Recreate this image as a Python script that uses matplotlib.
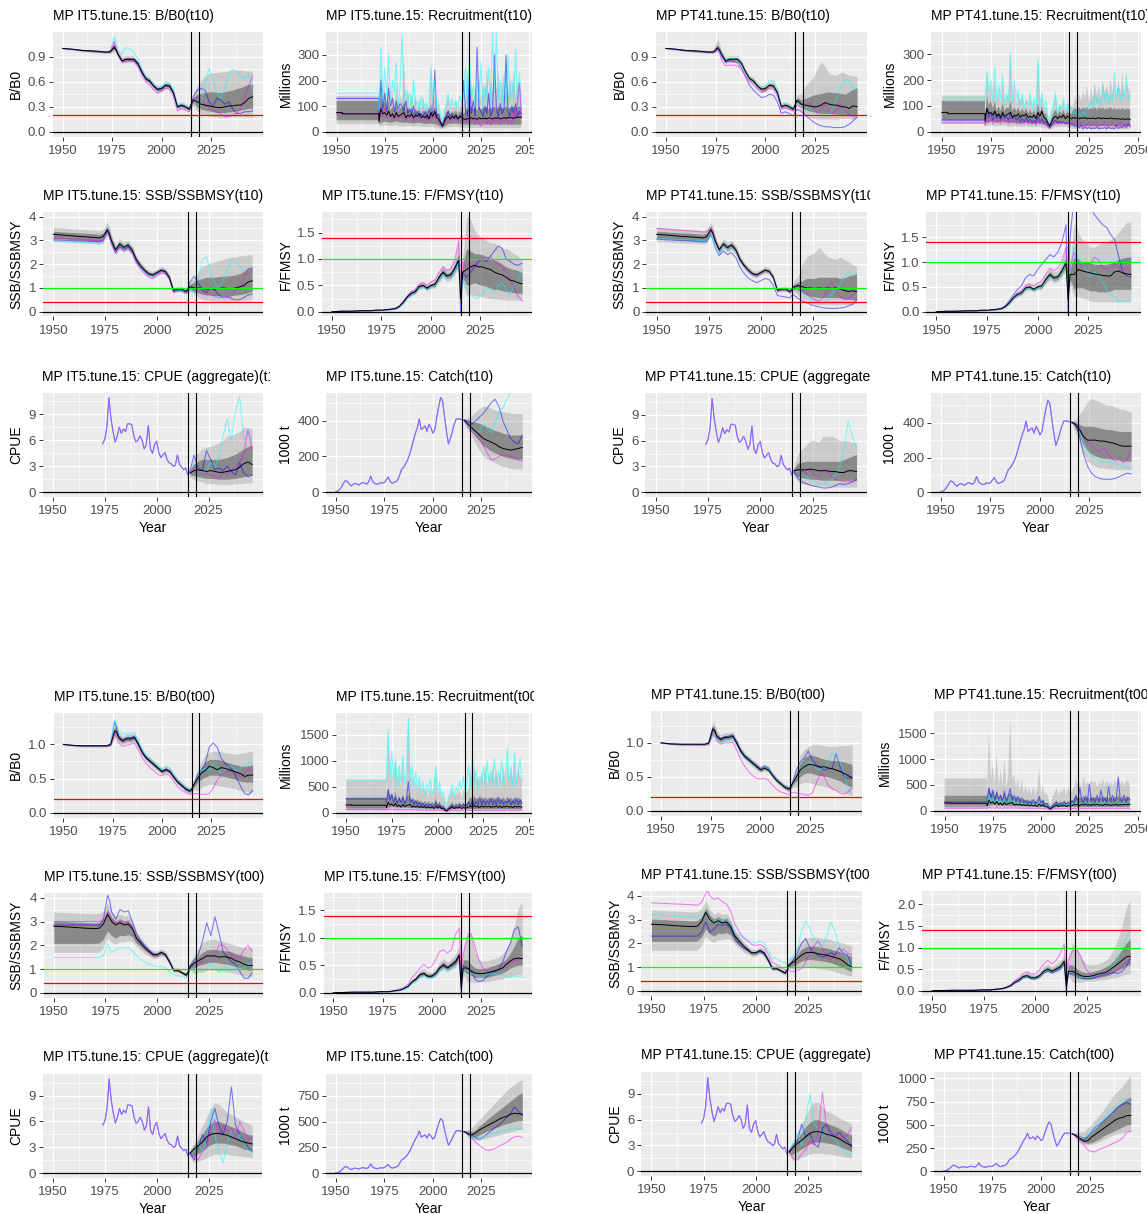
import numpy as np
import matplotlib
matplotlib.use("Agg")
import matplotlib.pyplot as plt
from matplotlib.transforms import Bbox

plt.rcParams["font.family"] = ["Liberation Sans", "DejaVu Sans"]

# ------------------------------------------------------------------
# year grids
# ------------------------------------------------------------------
YH = [1950, 1955, 1960, 1965, 1970, 1972, 1974, 1976, 1977, 1978, 1980, 1982,
      1984, 1986, 1988, 1990, 1992, 1994, 1996, 1998, 2000, 2002, 2004, 2006,
      2008, 2010, 2012, 2014, 2015, 2016]
YP = [2018, 2020, 2022, 2024, 2026, 2028, 2030, 2032, 2034, 2036, 2038, 2040,
      2042, 2044, 2046]
YP16 = [2016] + YP
CPUE_YEARS = list(range(1974, 2017))
CATCH_YEARS = list(range(1950, 2017))
YR = list(range(1972, 2047))
YR3 = list(range(1972, 2045, 3)) + [2046]
REC_FLAT_X = [1950, 1953, 1953, 1972]

# ------------------------------------------------------------------
# B/B0 - historical (per OM)
# ------------------------------------------------------------------
T10_BB0_MED = [1.00, 0.99, 0.975, 0.97, 0.96, 0.955, 0.96, 1.01, 0.98, 0.93, 0.85, 0.87, 0.87, 0.87, 0.82, 0.72, 0.64, 0.61, 0.55, 0.51, 0.52, 0.56, 0.55, 0.47, 0.30, 0.32, 0.30, 0.27, 0.33, 0.38]
T10_BB0_OLO = [0.99, 0.98, 0.96, 0.95, 0.94, 0.94, 0.94, 0.96, 0.93, 0.89, 0.82, 0.83, 0.83, 0.83, 0.78, 0.68, 0.60, 0.57, 0.51, 0.47, 0.48, 0.52, 0.51, 0.43, 0.27, 0.28, 0.26, 0.24, 0.28, 0.31]
T10_BB0_OHI = [1.01, 1.00, 0.99, 0.985, 0.98, 0.975, 0.99, 1.12, 1.06, 0.98, 0.90, 0.91, 0.91, 0.91, 0.86, 0.76, 0.68, 0.65, 0.59, 0.55, 0.57, 0.61, 0.60, 0.52, 0.34, 0.36, 0.34, 0.31, 0.38, 0.45]
T10_BB0_ILO = [1.00, 0.985, 0.97, 0.96, 0.95, 0.95, 0.95, 0.99, 0.96, 0.91, 0.84, 0.85, 0.85, 0.85, 0.80, 0.70, 0.62, 0.59, 0.53, 0.49, 0.50, 0.54, 0.53, 0.45, 0.29, 0.30, 0.28, 0.26, 0.31, 0.35]
T10_BB0_IHI = [1.00, 0.995, 0.98, 0.975, 0.97, 0.965, 0.975, 1.05, 1.01, 0.95, 0.87, 0.89, 0.89, 0.89, 0.84, 0.74, 0.66, 0.63, 0.57, 0.53, 0.54, 0.58, 0.57, 0.49, 0.32, 0.34, 0.32, 0.29, 0.35, 0.41]
T00_BB0_MED = [1.00, 0.985, 0.98, 0.98, 0.98, 0.98, 1.00, 1.20, 1.18, 1.10, 1.05, 1.08, 1.08, 1.10, 1.00, 0.88, 0.80, 0.75, 0.70, 0.65, 0.60, 0.63, 0.60, 0.52, 0.45, 0.40, 0.35, 0.32, 0.34, 0.40]
T00_BB0_OLO = [0.99, 0.97, 0.96, 0.96, 0.96, 0.96, 0.97, 1.10, 1.08, 1.03, 0.99, 1.02, 1.02, 1.03, 0.94, 0.82, 0.75, 0.70, 0.65, 0.60, 0.56, 0.59, 0.56, 0.48, 0.41, 0.36, 0.31, 0.28, 0.29, 0.34]
T00_BB0_OHI = [1.01, 1.00, 0.995, 0.995, 0.995, 0.995, 1.03, 1.32, 1.28, 1.18, 1.12, 1.15, 1.15, 1.16, 1.07, 0.94, 0.86, 0.81, 0.76, 0.71, 0.66, 0.69, 0.66, 0.57, 0.50, 0.45, 0.40, 0.37, 0.40, 0.47]
T00_BB0_ILO = [1.00, 0.98, 0.97, 0.97, 0.97, 0.97, 0.985, 1.15, 1.13, 1.06, 1.02, 1.05, 1.05, 1.07, 0.97, 0.85, 0.78, 0.73, 0.68, 0.63, 0.58, 0.61, 0.58, 0.50, 0.43, 0.38, 0.33, 0.30, 0.31, 0.37]
T00_BB0_IHI = [1.00, 0.99, 0.99, 0.99, 0.99, 0.99, 1.015, 1.26, 1.23, 1.14, 1.08, 1.11, 1.11, 1.13, 1.03, 0.91, 0.83, 0.78, 0.73, 0.68, 0.63, 0.66, 0.63, 0.55, 0.48, 0.43, 0.38, 0.35, 0.37, 0.43]

# B/B0 - projections (per MP/OM)
IT5_T10_BB0_MED = [0.36, 0.33, 0.32, 0.31, 0.30, 0.29, 0.29, 0.30, 0.31, 0.31, 0.32, 0.32, 0.35, 0.40, 0.42]
IT5_T10_BB0_OLO = [0.25, 0.21, 0.20, 0.19, 0.18, 0.18, 0.17, 0.17, 0.18, 0.18, 0.18, 0.18, 0.18, 0.18, 0.17]
IT5_T10_BB0_OHI = [0.55, 0.62, 0.67, 0.70, 0.71, 0.71, 0.72, 0.72, 0.73, 0.74, 0.74, 0.74, 0.73, 0.73, 0.72]
IT5_T10_BB0_ILO = [0.30, 0.27, 0.26, 0.25, 0.24, 0.23, 0.23, 0.23, 0.24, 0.24, 0.25, 0.26, 0.27, 0.28, 0.28]
IT5_T10_BB0_IHI = [0.45, 0.46, 0.47, 0.48, 0.48, 0.47, 0.47, 0.48, 0.49, 0.50, 0.52, 0.53, 0.55, 0.57, 0.57]
PT41_T10_BB0_MED = [0.33, 0.32, 0.31, 0.30, 0.30, 0.32, 0.35, 0.33, 0.32, 0.32, 0.30, 0.30, 0.28, 0.31, 0.30]
PT41_T10_BB0_OLO = [0.25, 0.20, 0.18, 0.16, 0.15, 0.15, 0.15, 0.15, 0.15, 0.15, 0.16, 0.16, 0.16, 0.15, 0.15]
PT41_T10_BB0_OHI = [0.45, 0.55, 0.60, 0.65, 0.75, 0.84, 0.78, 0.70, 0.68, 0.68, 0.72, 0.70, 0.68, 0.67, 0.66]
PT41_T10_BB0_ILO = [0.30, 0.27, 0.25, 0.24, 0.23, 0.22, 0.22, 0.22, 0.22, 0.21, 0.21, 0.21, 0.20, 0.20, 0.20]
PT41_T10_BB0_IHI = [0.38, 0.40, 0.42, 0.44, 0.45, 0.46, 0.47, 0.48, 0.47, 0.47, 0.46, 0.45, 0.48, 0.51, 0.53]
IT5_T00_BB0_MED = [0.50, 0.58, 0.62, 0.68, 0.66, 0.63, 0.66, 0.65, 0.63, 0.61, 0.59, 0.57, 0.53, 0.55, 0.55]
IT5_T00_BB0_OLO = [0.33, 0.37, 0.40, 0.42, 0.41, 0.40, 0.39, 0.38, 0.37, 0.36, 0.34, 0.32, 0.31, 0.30, 0.30]
IT5_T00_BB0_OHI = [0.62, 0.75, 0.84, 0.88, 0.90, 0.90, 0.89, 0.88, 0.87, 0.86, 0.86, 0.87, 0.88, 0.89, 0.90]
IT5_T00_BB0_ILO = [0.44, 0.49, 0.52, 0.55, 0.55, 0.55, 0.54, 0.53, 0.51, 0.50, 0.48, 0.46, 0.45, 0.45, 0.45]
IT5_T00_BB0_IHI = [0.56, 0.66, 0.74, 0.78, 0.78, 0.78, 0.77, 0.75, 0.73, 0.71, 0.70, 0.68, 0.68, 0.69, 0.70]
PT41_T00_BB0_MED = [0.50, 0.60, 0.65, 0.68, 0.68, 0.66, 0.64, 0.65, 0.63, 0.62, 0.60, 0.58, 0.55, 0.52, 0.48]
PT41_T00_BB0_OLO = [0.35, 0.40, 0.42, 0.42, 0.40, 0.38, 0.37, 0.36, 0.34, 0.32, 0.30, 0.28, 0.26, 0.24, 0.22]
PT41_T00_BB0_OHI = [0.62, 0.82, 0.90, 0.95, 0.97, 0.98, 0.97, 0.96, 0.95, 0.95, 0.95, 0.96, 0.96, 0.97, 0.97]
PT41_T00_BB0_ILO = [0.44, 0.50, 0.55, 0.56, 0.55, 0.53, 0.52, 0.51, 0.50, 0.48, 0.46, 0.44, 0.40, 0.37, 0.35]
PT41_T00_BB0_IHI = [0.56, 0.70, 0.78, 0.82, 0.82, 0.80, 0.78, 0.76, 0.75, 0.74, 0.74, 0.73, 0.72, 0.70, 0.68]

# B/B0 - worms (full period)
IT5_T10_BB0_CY = [1.00, 0.99, 0.975, 0.97, 0.96, 0.955, 0.97, 1.14, 1.08, 0.97, 0.93, 1.01, 0.99, 0.96, 0.88, 0.76, 0.66, 0.62, 0.57, 0.52, 0.55, 0.58, 0.58, 0.50, 0.32, 0.33, 0.30, 0.27, 0.32, 0.37,
                  0.33, 0.34, 0.60, 0.76, 0.62, 0.47, 0.40, 0.52, 0.70, 0.75, 0.72, 0.66, 0.64, 0.70, 0.49]
IT5_T10_BB0_BL = [1.00, 0.99, 0.975, 0.97, 0.96, 0.955, 0.96, 1.03, 0.99, 0.93, 0.85, 0.87, 0.87, 0.86, 0.81, 0.71, 0.63, 0.60, 0.54, 0.50, 0.52, 0.55, 0.54, 0.46, 0.29, 0.31, 0.30, 0.27, 0.34, 0.42,
                  0.50, 0.52, 0.50, 0.36, 0.30, 0.40, 0.38, 0.33, 0.36, 0.27, 0.22, 0.22, 0.24, 0.24, 0.25]
IT5_T10_BB0_MG = [1.00, 0.99, 0.975, 0.97, 0.955, 0.95, 0.955, 1.08, 1.00, 0.92, 0.83, 0.85, 0.85, 0.84, 0.78, 0.68, 0.60, 0.56, 0.50, 0.46, 0.49, 0.52, 0.51, 0.42, 0.25, 0.28, 0.26, 0.24, 0.30, 0.38,
                  0.42, 0.38, 0.32, 0.29, 0.26, 0.24, 0.21, 0.18, 0.18, 0.20, 0.22, 0.28, 0.42, 0.55, 0.67]
PT41_T10_BB0_CY = [1.00, 0.99, 0.975, 0.97, 0.96, 0.955, 0.96, 1.02, 0.99, 0.93, 0.86, 0.88, 0.88, 0.88, 0.83, 0.73, 0.65, 0.62, 0.57, 0.53, 0.55, 0.61, 0.62, 0.50, 0.33, 0.34, 0.31, 0.29, 0.32, 0.34,
                   0.31, 0.30, 0.28, 0.25, 0.21, 0.18, 0.16, 0.20, 0.30, 0.40, 0.55, 0.62, 0.62, 0.50, 0.52]
PT41_T10_BB0_BL = [1.00, 0.99, 0.975, 0.97, 0.96, 0.955, 0.955, 1.00, 0.97, 0.91, 0.83, 0.85, 0.84, 0.83, 0.77, 0.66, 0.56, 0.50, 0.45, 0.41, 0.42, 0.45, 0.44, 0.36, 0.22, 0.24, 0.22, 0.19, 0.24, 0.27,
                   0.24, 0.20, 0.16, 0.12, 0.09, 0.07, 0.06, 0.06, 0.05, 0.05, 0.05, 0.06, 0.09, 0.13, 0.18]
PT41_T10_BB0_MG = [1.00, 0.99, 0.975, 0.97, 0.955, 0.95, 0.95, 0.98, 0.94, 0.86, 0.79, 0.80, 0.80, 0.79, 0.75, 0.67, 0.60, 0.57, 0.51, 0.47, 0.49, 0.52, 0.51, 0.43, 0.27, 0.29, 0.27, 0.25, 0.29, 0.32,
                   0.29, 0.31, 0.35, 0.30, 0.22, 0.28, 0.33, 0.26, 0.21, 0.28, 0.33, 0.26, 0.20, 0.18, 0.20]
IT5_T00_BB0_CY = [1.00, 0.985, 0.98, 0.98, 0.98, 0.98, 1.02, 1.36, 1.30, 1.20, 1.16, 1.15, 1.16, 1.18, 1.06, 0.93, 0.84, 0.79, 0.74, 0.68, 0.64, 0.68, 0.66, 0.57, 0.48, 0.43, 0.37, 0.33, 0.35, 0.40,
                  0.52, 0.62, 0.65, 0.62, 0.72, 0.66, 0.58, 0.62, 0.68, 0.66, 0.62, 0.65, 0.70, 0.72, 0.76]
IT5_T00_BB0_BL = [1.00, 0.985, 0.98, 0.98, 0.98, 0.98, 1.01, 1.34, 1.25, 1.12, 1.07, 1.10, 1.10, 1.12, 1.02, 0.89, 0.81, 0.76, 0.71, 0.66, 0.61, 0.64, 0.61, 0.52, 0.44, 0.39, 0.34, 0.31, 0.34, 0.40,
                  0.55, 0.62, 0.72, 0.96, 1.02, 0.96, 0.80, 0.72, 0.68, 0.62, 0.50, 0.38, 0.28, 0.26, 0.33]
IT5_T00_BB0_MG = [1.00, 0.985, 0.975, 0.975, 0.975, 0.975, 0.99, 1.15, 1.10, 1.02, 0.97, 0.99, 1.00, 1.02, 0.92, 0.80, 0.72, 0.66, 0.61, 0.56, 0.54, 0.57, 0.54, 0.46, 0.38, 0.33, 0.30, 0.27, 0.27, 0.28,
                  0.28, 0.27, 0.27, 0.28, 0.36, 0.48, 0.55, 0.60, 0.62, 0.60, 0.57, 0.52, 0.58, 0.64, 0.60]
PT41_T00_BB0_CY = [1.00, 0.985, 0.98, 0.98, 0.975, 0.975, 0.99, 1.10, 1.12, 1.05, 1.00, 1.03, 1.06, 1.08, 0.98, 0.86, 0.79, 0.74, 0.69, 0.64, 0.60, 0.64, 0.62, 0.53, 0.46, 0.41, 0.36, 0.33, 0.35, 0.38,
                   0.50, 0.60, 0.66, 0.72, 0.70, 0.62, 0.60, 0.64, 0.72, 0.86, 0.82, 0.70, 0.55, 0.35, 0.24]
PT41_T00_BB0_BL = [1.00, 0.985, 0.98, 0.98, 0.98, 0.98, 1.00, 1.22, 1.18, 1.10, 1.06, 1.09, 1.10, 1.12, 1.02, 0.90, 0.82, 0.77, 0.72, 0.67, 0.62, 0.66, 0.63, 0.54, 0.46, 0.41, 0.36, 0.33, 0.35, 0.40,
                   0.60, 0.72, 0.78, 0.88, 0.75, 0.68, 0.65, 0.60, 0.62, 0.62, 0.84, 0.65, 0.50, 0.48, 0.50]
PT41_T00_BB0_MG = [1.00, 0.985, 0.975, 0.975, 0.97, 0.97, 0.98, 1.13, 1.10, 1.03, 0.98, 1.00, 1.00, 1.01, 0.90, 0.76, 0.66, 0.58, 0.52, 0.48, 0.47, 0.48, 0.45, 0.38, 0.32, 0.28, 0.26, 0.24, 0.25, 0.27,
                   0.26, 0.25, 0.24, 0.23, 0.26, 0.40, 0.55, 0.50, 0.38, 0.32, 0.30, 0.26, 0.24, 0.28, 0.33]

# ------------------------------------------------------------------
# SSB/SSBMSY
# ------------------------------------------------------------------
T10_SSB_MED = [3.25, 3.22, 3.18, 3.15, 3.12, 3.10, 3.15, 3.45, 3.30, 3.00, 2.60, 2.85, 2.70, 2.80, 2.60, 2.20, 1.95, 1.75, 1.60, 1.55, 1.65, 1.75, 1.70, 1.45, 0.90, 0.95, 0.95, 0.85, 0.95, 1.05]
T10_SSB_OLO = [2.95, 2.93, 2.90, 2.88, 2.86, 2.84, 2.88, 3.20, 3.05, 2.78, 2.40, 2.62, 2.50, 2.58, 2.40, 2.02, 1.80, 1.60, 1.47, 1.42, 1.52, 1.62, 1.57, 1.33, 0.80, 0.85, 0.85, 0.75, 0.82, 0.85]
T10_SSB_OHI = [3.55, 3.52, 3.48, 3.45, 3.42, 3.40, 3.45, 3.75, 3.60, 3.25, 2.82, 3.08, 2.92, 3.02, 2.80, 2.38, 2.10, 1.90, 1.75, 1.70, 1.80, 1.90, 1.85, 1.58, 1.00, 1.05, 1.05, 0.96, 1.10, 1.30]
T10_SSB_ILO = [3.08, 3.05, 3.02, 3.00, 2.98, 2.96, 3.00, 3.32, 3.17, 2.88, 2.50, 2.74, 2.60, 2.69, 2.50, 2.11, 1.88, 1.68, 1.54, 1.49, 1.59, 1.69, 1.64, 1.39, 0.85, 0.90, 0.90, 0.80, 0.88, 0.95]
T10_SSB_IHI = [3.38, 3.35, 3.32, 3.30, 3.27, 3.25, 3.30, 3.58, 3.43, 3.12, 2.70, 2.96, 2.80, 2.91, 2.70, 2.29, 2.02, 1.82, 1.67, 1.62, 1.72, 1.82, 1.77, 1.52, 0.95, 1.00, 1.00, 0.90, 1.02, 1.15]
T00_SSB_MED = [2.80, 2.78, 2.75, 2.72, 2.70, 2.72, 2.90, 3.30, 3.15, 3.00, 2.85, 2.95, 2.85, 2.90, 2.70, 2.30, 2.10, 1.90, 1.75, 1.60, 1.60, 1.70, 1.60, 1.30, 0.95, 0.95, 0.85, 0.75, 0.85, 1.10]
T00_SSB_OLO = [1.70, 1.70, 1.70, 1.70, 1.70, 1.72, 1.90, 2.30, 2.20, 2.10, 2.05, 2.15, 2.15, 2.20, 2.15, 1.95, 1.80, 1.65, 1.55, 1.45, 1.45, 1.55, 1.45, 1.18, 0.85, 0.85, 0.76, 0.66, 0.75, 0.95]
T00_SSB_OHI = [3.40, 3.38, 3.36, 3.34, 3.32, 3.34, 3.45, 3.80, 3.62, 3.42, 3.22, 3.32, 3.22, 3.26, 3.02, 2.56, 2.32, 2.10, 1.92, 1.76, 1.76, 1.86, 1.76, 1.44, 1.06, 1.05, 0.95, 0.86, 1.00, 1.30]
T00_SSB_ILO = [2.08, 2.08, 2.08, 2.08, 2.08, 2.10, 2.25, 2.60, 2.50, 2.40, 2.30, 2.42, 2.40, 2.45, 2.35, 2.08, 1.94, 1.78, 1.66, 1.52, 1.52, 1.62, 1.52, 1.23, 0.90, 0.90, 0.80, 0.70, 0.80, 1.02]
T00_SSB_IHI = [3.02, 3.00, 2.98, 2.96, 2.94, 2.96, 3.10, 3.50, 3.35, 3.18, 3.02, 3.12, 3.02, 3.07, 2.85, 2.42, 2.20, 1.98, 1.82, 1.66, 1.66, 1.76, 1.66, 1.36, 1.00, 0.99, 0.89, 0.80, 0.92, 1.20]

IT5_T10_SSB_MED = [1.00, 1.00, 0.98, 0.95, 0.98, 0.95, 0.98, 1.00, 0.98, 0.97, 1.00, 1.05, 1.10, 1.25, 1.30]
IT5_T10_SSB_OLO = [0.75, 0.60, 0.50, 0.48, 0.46, 0.45, 0.44, 0.44, 0.44, 0.44, 0.45, 0.46, 0.47, 0.48, 0.50]
IT5_T10_SSB_OHI = [1.40, 1.70, 1.90, 2.00, 2.05, 2.10, 2.15, 2.20, 2.25, 2.30, 2.30, 2.35, 2.35, 2.40, 2.40]
IT5_T10_SSB_ILO = [0.85, 0.80, 0.75, 0.72, 0.70, 0.68, 0.68, 0.68, 0.68, 0.68, 0.70, 0.72, 0.75, 0.80, 0.85]
IT5_T10_SSB_IHI = [1.25, 1.35, 1.40, 1.45, 1.45, 1.45, 1.48, 1.50, 1.50, 1.52, 1.55, 1.60, 1.70, 1.85, 1.90]
PT41_T10_SSB_MED = [1.10, 1.05, 1.00, 1.00, 0.98, 1.00, 0.98, 1.00, 0.98, 1.00, 0.95, 0.90, 0.85, 0.88, 0.85]
PT41_T10_SSB_OLO = [0.70, 0.50, 0.40, 0.35, 0.32, 0.30, 0.30, 0.30, 0.30, 0.30, 0.30, 0.30, 0.30, 0.32, 0.35]
PT41_T10_SSB_OHI = [1.50, 2.00, 2.30, 2.40, 2.50, 2.70, 2.50, 2.30, 2.25, 2.20, 2.30, 2.20, 2.10, 2.00, 1.90]
PT41_T10_SSB_ILO = [0.90, 0.80, 0.70, 0.65, 0.62, 0.60, 0.60, 0.60, 0.60, 0.60, 0.58, 0.55, 0.52, 0.50, 0.50]
PT41_T10_SSB_IHI = [1.25, 1.30, 1.40, 1.40, 1.40, 1.45, 1.45, 1.45, 1.45, 1.45, 1.40, 1.42, 1.50, 1.55, 1.60]
IT5_T00_SSB_MED = [1.25, 1.35, 1.45, 1.55, 1.55, 1.55, 1.50, 1.52, 1.50, 1.45, 1.35, 1.30, 1.20, 1.15, 1.15]
IT5_T00_SSB_OLO = [0.80, 0.85, 0.90, 0.95, 0.95, 0.95, 0.92, 0.90, 0.88, 0.85, 0.82, 0.78, 0.72, 0.68, 0.65]
IT5_T00_SSB_OHI = [1.60, 1.90, 2.10, 2.20, 2.25, 2.25, 2.20, 2.15, 2.10, 2.05, 2.00, 1.95, 1.90, 1.90, 1.90]
IT5_T00_SSB_ILO = [1.05, 1.15, 1.20, 1.25, 1.28, 1.28, 1.25, 1.22, 1.20, 1.15, 1.10, 1.05, 1.00, 0.95, 0.95]
IT5_T00_SSB_IHI = [1.40, 1.55, 1.70, 1.80, 1.82, 1.82, 1.80, 1.78, 1.75, 1.72, 1.65, 1.60, 1.55, 1.50, 1.50]
PT41_T00_SSB_MED = [1.20, 1.35, 1.50, 1.60, 1.62, 1.60, 1.55, 1.52, 1.50, 1.45, 1.40, 1.35, 1.25, 1.10, 1.00]
PT41_T00_SSB_OLO = [0.90, 0.95, 1.00, 1.00, 1.00, 0.98, 0.95, 0.92, 0.90, 0.85, 0.80, 0.75, 0.70, 0.65, 0.60]
PT41_T00_SSB_OHI = [1.50, 1.90, 2.10, 2.20, 2.25, 2.25, 2.25, 2.20, 2.20, 2.15, 2.10, 2.05, 2.00, 1.95, 1.90]
PT41_T00_SSB_ILO = [1.05, 1.15, 1.25, 1.30, 1.32, 1.30, 1.28, 1.25, 1.22, 1.18, 1.12, 1.05, 0.98, 0.88, 0.80]
PT41_T00_SSB_IHI = [1.35, 1.55, 1.75, 1.85, 1.88, 1.88, 1.85, 1.82, 1.80, 1.75, 1.70, 1.65, 1.60, 1.50, 1.45]

IT5_T10_SSB_CY = [2.97, 2.95, 2.93, 2.92, 2.90, 2.88, 2.92, 3.55, 3.30, 2.95, 2.55, 2.85, 2.65, 2.78, 2.58, 2.18, 1.92, 1.72, 1.58, 1.52, 1.62, 1.75, 1.72, 1.45, 0.88, 0.92, 0.90, 0.80, 0.85, 0.90,
                  0.80, 1.30, 2.20, 2.30, 1.60, 1.20, 1.00, 1.30, 1.80, 2.20, 2.10, 1.90, 1.70, 1.75, 1.80]
IT5_T10_SSB_BL = [3.02, 3.00, 2.98, 2.97, 2.95, 2.93, 2.98, 3.40, 3.20, 2.90, 2.50, 2.75, 2.62, 2.72, 2.52, 2.12, 1.88, 1.70, 1.55, 1.50, 1.60, 1.72, 1.68, 1.42, 0.85, 0.90, 0.90, 0.80, 1.00, 1.25,
                  1.50, 1.20, 0.90, 0.80, 1.00, 0.90, 0.70, 0.60, 0.65, 0.55, 0.50, 0.50, 0.60, 0.70, 0.75]
IT5_T10_SSB_MG = [3.10, 3.08, 3.05, 3.03, 3.00, 2.98, 3.00, 3.35, 3.15, 2.85, 2.45, 2.70, 2.55, 2.65, 2.45, 2.05, 1.80, 1.60, 1.45, 1.40, 1.50, 1.62, 1.60, 1.35, 0.80, 0.85, 0.85, 0.75, 0.90, 1.05,
                  0.95, 0.80, 0.75, 0.70, 0.72, 0.65, 0.60, 0.62, 0.60, 0.65, 0.90, 1.00, 1.40, 1.80, 1.80]
PT41_T10_SSB_CY = [3.07, 3.05, 3.03, 3.02, 3.00, 2.98, 3.00, 3.30, 3.05, 2.70, 2.40, 2.75, 2.60, 2.70, 2.52, 2.12, 1.88, 1.68, 1.55, 1.50, 1.62, 1.72, 1.70, 1.45, 0.90, 0.95, 0.92, 0.82, 0.90, 1.00,
                   1.00, 0.85, 0.70, 0.55, 0.45, 0.40, 0.40, 0.50, 0.75, 0.90, 1.10, 1.50, 1.65, 1.50, 1.60]
PT41_T10_SSB_BL = [3.05, 3.02, 3.00, 2.98, 2.95, 2.93, 2.95, 3.25, 3.05, 2.72, 2.35, 2.55, 2.40, 2.48, 2.28, 1.88, 1.62, 1.42, 1.30, 1.22, 1.30, 1.40, 1.35, 1.12, 0.68, 0.65, 0.62, 0.58, 0.70, 0.70,
                   0.55, 0.45, 0.38, 0.30, 0.25, 0.20, 0.17, 0.15, 0.14, 0.14, 0.16, 0.18, 0.25, 0.30, 0.50]
PT41_T10_SSB_MG = [3.50, 3.47, 3.43, 3.40, 3.37, 3.35, 3.35, 3.55, 3.35, 3.00, 2.60, 2.85, 2.70, 2.80, 2.58, 2.15, 1.90, 1.70, 1.55, 1.50, 1.62, 1.72, 1.68, 1.42, 0.88, 0.92, 0.90, 0.80, 0.90, 1.00,
                   1.10, 0.90, 0.75, 0.60, 0.50, 0.45, 0.60, 0.85, 1.25, 0.90, 0.65, 0.50, 0.55, 0.70, 0.80]
IT5_T00_SSB_CY = [1.48, 1.48, 1.48, 1.48, 1.48, 1.48, 1.55, 2.05, 1.85, 1.70, 1.80, 1.90, 1.88, 1.90, 1.75, 1.55, 1.40, 1.30, 1.20, 1.15, 1.10, 1.12, 1.05, 0.90, 0.75, 0.72, 0.68, 0.62, 0.75, 0.95,
                  1.10, 1.00, 0.85, 0.95, 1.25, 1.00, 0.85, 1.10, 1.05, 0.95, 1.10, 1.00, 1.05, 1.25, 1.15]
IT5_T00_SSB_BL = [2.85, 2.85, 2.85, 2.85, 2.85, 2.85, 3.10, 4.10, 3.90, 3.40, 3.10, 3.50, 3.40, 3.45, 3.00, 2.50, 2.20, 2.00, 1.80, 1.65, 1.62, 1.72, 1.62, 1.30, 0.95, 0.92, 0.85, 0.72, 0.90, 1.15,
                  1.40, 1.60, 2.20, 2.95, 2.40, 3.20, 2.50, 1.70, 1.50, 1.30, 1.20, 0.90, 0.62, 0.60, 0.85]
IT5_T00_SSB_MG = [3.00, 3.00, 3.00, 3.00, 3.00, 3.00, 3.10, 3.40, 3.20, 3.05, 2.90, 3.00, 2.95, 2.95, 2.75, 2.30, 2.10, 1.90, 1.72, 1.60, 1.58, 1.68, 1.60, 1.30, 0.92, 0.92, 0.85, 0.75, 0.90, 1.10,
                  1.10, 1.20, 1.40, 1.60, 1.55, 1.60, 2.00, 2.00, 1.80, 1.60, 1.50, 1.50, 1.80, 2.00, 1.75]
PT41_T00_SSB_CY = [3.20, 3.18, 3.15, 3.12, 3.10, 3.10, 3.15, 3.30, 3.10, 2.90, 2.90, 3.00, 2.95, 3.00, 2.90, 2.50, 2.35, 2.25, 2.15, 2.05, 2.00, 2.10, 2.00, 1.70, 1.40, 1.35, 1.25, 1.15, 1.20, 1.30,
                   1.50, 1.80, 2.50, 2.95, 2.60, 2.20, 2.00, 1.90, 2.30, 2.90, 2.50, 1.90, 1.60, 1.40, 0.90]
PT41_T00_SSB_BL = [2.30, 2.30, 2.30, 2.30, 2.30, 2.30, 2.45, 2.90, 2.70, 2.45, 2.60, 2.80, 2.75, 2.80, 2.60, 2.20, 1.95, 1.80, 1.70, 1.60, 1.60, 1.65, 1.55, 1.25, 0.90, 0.90, 0.85, 0.75, 0.85, 1.00,
                   1.30, 1.60, 2.00, 2.20, 1.80, 1.60, 1.50, 1.40, 1.50, 1.60, 1.50, 1.80, 1.60, 1.50, 1.00]
PT41_T00_SSB_MG = [3.70, 3.68, 3.66, 3.64, 3.62, 3.60, 3.70, 4.10, 4.20, 4.00, 3.85, 3.90, 3.75, 3.65, 3.35, 2.80, 2.50, 2.25, 2.10, 1.95, 1.90, 1.95, 1.85, 1.55, 1.20, 1.10, 1.00, 0.88, 0.85, 0.85,
                   0.80, 0.85, 0.95, 1.20, 1.60, 1.90, 2.10, 1.80, 1.40, 1.30, 1.50, 1.60, 1.75, 1.60, 1.50]

# ------------------------------------------------------------------
# F/FMSY
# ------------------------------------------------------------------
T10_F_MED = [0.00, 0.01, 0.01, 0.02, 0.02, 0.03, 0.03, 0.03, 0.04, 0.04, 0.05, 0.06, 0.10, 0.18, 0.28, 0.35, 0.38, 0.48, 0.50, 0.45, 0.50, 0.52, 0.65, 0.75, 0.68, 0.70, 0.82, 0.98, 0.25, 0.75]
T10_F_OLO = [0.00, 0.00, 0.00, 0.01, 0.01, 0.02, 0.02, 0.02, 0.03, 0.03, 0.04, 0.05, 0.08, 0.15, 0.24, 0.30, 0.33, 0.42, 0.44, 0.40, 0.44, 0.45, 0.56, 0.65, 0.58, 0.60, 0.70, 0.82, 0.05, 0.55]
T10_F_OHI = [0.01, 0.02, 0.02, 0.03, 0.03, 0.04, 0.04, 0.05, 0.05, 0.06, 0.07, 0.08, 0.13, 0.22, 0.33, 0.41, 0.45, 0.56, 0.58, 0.52, 0.58, 0.62, 0.76, 0.88, 0.80, 0.84, 1.00, 1.35, 0.60, 1.00]
T10_F_ILO = [0.00, 0.00, 0.01, 0.01, 0.02, 0.02, 0.02, 0.03, 0.03, 0.03, 0.04, 0.05, 0.09, 0.16, 0.26, 0.32, 0.35, 0.45, 0.47, 0.42, 0.47, 0.48, 0.60, 0.70, 0.63, 0.65, 0.76, 0.90, 0.15, 0.65]
T10_F_IHI = [0.01, 0.01, 0.02, 0.02, 0.03, 0.04, 0.04, 0.04, 0.05, 0.05, 0.06, 0.07, 0.11, 0.20, 0.30, 0.38, 0.41, 0.51, 0.53, 0.48, 0.53, 0.56, 0.70, 0.81, 0.73, 0.76, 0.90, 1.10, 0.40, 0.88]
T00_F_MED = [0.00, 0.005, 0.01, 0.01, 0.01, 0.015, 0.02, 0.02, 0.02, 0.02, 0.03, 0.04, 0.05, 0.08, 0.12, 0.20, 0.25, 0.33, 0.35, 0.30, 0.30, 0.35, 0.45, 0.50, 0.45, 0.50, 0.55, 0.68, 0.10, 0.45]
T00_F_OLO = [0.00, 0.00, 0.00, 0.00, 0.00, 0.01, 0.01, 0.01, 0.01, 0.01, 0.02, 0.03, 0.04, 0.06, 0.10, 0.17, 0.21, 0.28, 0.30, 0.26, 0.26, 0.30, 0.39, 0.43, 0.39, 0.43, 0.47, 0.58, 0.00, 0.35]
T00_F_OHI = [0.01, 0.01, 0.015, 0.02, 0.02, 0.02, 0.03, 0.03, 0.03, 0.03, 0.04, 0.05, 0.07, 0.10, 0.15, 0.25, 0.31, 0.41, 0.44, 0.38, 0.38, 0.44, 0.56, 0.62, 0.56, 0.62, 0.70, 0.85, 0.40, 0.75]
T00_F_ILO = [0.00, 0.00, 0.005, 0.005, 0.005, 0.01, 0.015, 0.015, 0.015, 0.015, 0.025, 0.035, 0.045, 0.07, 0.11, 0.18, 0.23, 0.30, 0.32, 0.28, 0.28, 0.32, 0.42, 0.46, 0.42, 0.46, 0.51, 0.62, 0.05, 0.40]
T00_F_IHI = [0.005, 0.01, 0.01, 0.015, 0.015, 0.02, 0.025, 0.025, 0.025, 0.025, 0.035, 0.045, 0.06, 0.09, 0.13, 0.22, 0.28, 0.37, 0.39, 0.34, 0.34, 0.39, 0.50, 0.56, 0.50, 0.56, 0.62, 0.75, 0.25, 0.60]

IT5_T10_F_MED = [0.80, 0.85, 0.88, 0.85, 0.85, 0.82, 0.80, 0.75, 0.72, 0.70, 0.65, 0.60, 0.58, 0.55, 0.53]
IT5_T10_F_OLO = [0.30, 0.35, 0.30, 0.30, 0.28, 0.26, 0.25, 0.24, 0.24, 0.23, 0.22, 0.22, 0.22, 0.22, 0.22]
IT5_T10_F_OHI = [1.80, 1.75, 1.55, 1.45, 1.40, 1.35, 1.30, 1.30, 1.25, 1.20, 1.20, 1.15, 1.10, 1.05, 1.00]
IT5_T10_F_ILO = [0.50, 0.52, 0.55, 0.52, 0.50, 0.48, 0.45, 0.42, 0.42, 0.40, 0.38, 0.38, 0.36, 0.35, 0.35]
IT5_T10_F_IHI = [1.20, 1.15, 1.10, 1.10, 1.08, 1.05, 1.00, 0.98, 0.95, 0.90, 0.85, 0.82, 0.80, 0.78, 0.75]
PT41_T10_F_MED = [0.75, 0.85, 0.82, 0.80, 0.78, 0.76, 0.75, 0.73, 0.72, 0.72, 0.80, 0.82, 0.78, 0.76, 0.75]
PT41_T10_F_OLO = [0.30, 0.30, 0.28, 0.25, 0.22, 0.20, 0.20, 0.20, 0.20, 0.20, 0.20, 0.20, 0.20, 0.20, 0.20]
PT41_T10_F_OHI = [1.80, 1.60, 1.45, 1.40, 1.30, 1.30, 1.35, 1.40, 1.40, 1.45, 1.50, 1.60, 1.70, 1.80, 1.80]
PT41_T10_F_ILO = [0.45, 0.48, 0.48, 0.45, 0.42, 0.42, 0.40, 0.40, 0.40, 0.42, 0.45, 0.45, 0.45, 0.45, 0.45]
PT41_T10_F_IHI = [1.10, 1.05, 1.00, 1.00, 0.98, 0.95, 0.95, 0.95, 0.95, 0.98, 1.00, 1.05, 1.08, 1.10, 1.10]
IT5_T00_F_MED = [0.45, 0.40, 0.36, 0.35, 0.35, 0.36, 0.38, 0.40, 0.42, 0.45, 0.52, 0.58, 0.62, 0.63, 0.62]
IT5_T00_F_OLO = [0.20, 0.20, 0.18, 0.20, 0.20, 0.20, 0.22, 0.23, 0.24, 0.25, 0.28, 0.30, 0.32, 0.33, 0.32]
IT5_T00_F_OHI = [1.10, 1.05, 0.75, 0.60, 0.58, 0.58, 0.60, 0.62, 0.65, 0.70, 0.80, 0.95, 1.20, 1.55, 1.65]
IT5_T00_F_ILO = [0.35, 0.32, 0.28, 0.28, 0.28, 0.28, 0.30, 0.32, 0.33, 0.36, 0.40, 0.45, 0.48, 0.50, 0.50]
IT5_T00_F_IHI = [0.60, 0.52, 0.45, 0.44, 0.44, 0.45, 0.48, 0.50, 0.53, 0.56, 0.62, 0.72, 0.85, 1.00, 1.05]
PT41_T00_F_MED = [0.45, 0.40, 0.35, 0.33, 0.33, 0.35, 0.38, 0.40, 0.42, 0.48, 0.55, 0.62, 0.70, 0.78, 0.80]
PT41_T00_F_OLO = [0.20, 0.20, 0.20, 0.22, 0.22, 0.22, 0.24, 0.25, 0.26, 0.28, 0.30, 0.32, 0.35, 0.38, 0.40]
PT41_T00_F_OHI = [1.10, 1.00, 0.80, 0.65, 0.60, 0.60, 0.62, 0.65, 0.70, 0.80, 0.95, 1.20, 1.50, 1.90, 2.10]
PT41_T00_F_ILO = [0.35, 0.30, 0.28, 0.27, 0.27, 0.28, 0.30, 0.32, 0.34, 0.37, 0.42, 0.47, 0.52, 0.58, 0.60]
PT41_T00_F_IHI = [0.60, 0.52, 0.45, 0.42, 0.42, 0.44, 0.47, 0.50, 0.55, 0.60, 0.70, 0.82, 0.95, 1.10, 1.20]

IT5_T10_F_CY = [0.00, 0.01, 0.01, 0.01, 0.02, 0.02, 0.02, 0.03, 0.03, 0.03, 0.04, 0.05, 0.08, 0.16, 0.25, 0.32, 0.35, 0.44, 0.47, 0.42, 0.47, 0.49, 0.60, 0.70, 0.64, 0.66, 0.78, 0.95, 0.30, 0.60,
                0.45, 0.35, 0.25, 0.25, 0.35, 0.45, 0.42, 0.35, 0.50, 0.55, 0.40, 0.35, 0.50, 0.60, 0.80]
IT5_T10_F_BL = [0.00, 0.01, 0.01, 0.02, 0.02, 0.03, 0.03, 0.03, 0.04, 0.04, 0.05, 0.06, 0.10, 0.18, 0.28, 0.35, 0.38, 0.48, 0.50, 0.44, 0.50, 0.52, 0.64, 0.74, 0.67, 0.70, 0.82, 1.00, 0.00, 0.75,
                0.65, 0.75, 0.85, 0.95, 1.00, 0.95, 1.05, 1.15, 1.25, 1.20, 1.00, 0.95, 0.90, 0.88, 0.92]
IT5_T10_F_MG = [0.00, 0.01, 0.01, 0.02, 0.02, 0.03, 0.03, 0.03, 0.04, 0.04, 0.05, 0.07, 0.11, 0.20, 0.30, 0.38, 0.42, 0.52, 0.55, 0.50, 0.57, 0.60, 0.74, 0.85, 0.78, 0.82, 0.98, 1.35, 0.40, 0.95,
                0.85, 0.80, 0.90, 1.00, 0.95, 1.00, 1.05, 0.95, 0.90, 0.85, 0.75, 0.60, 0.45, 0.30, 0.20]
PT41_T10_F_CY = [0.00, 0.01, 0.01, 0.01, 0.02, 0.02, 0.02, 0.03, 0.03, 0.03, 0.04, 0.05, 0.08, 0.16, 0.25, 0.32, 0.35, 0.44, 0.47, 0.42, 0.47, 0.49, 0.60, 0.70, 0.64, 0.66, 0.78, 0.95, 0.30, 0.80,
                 1.30, 1.10, 0.95, 0.85, 0.70, 0.80, 0.75, 0.60, 0.45, 0.35, 0.30, 0.20, 0.20, 0.22, 0.25]
PT41_T10_F_BL = [0.00, 0.01, 0.01, 0.02, 0.02, 0.03, 0.03, 0.03, 0.04, 0.04, 0.05, 0.07, 0.12, 0.22, 0.34, 0.45, 0.52, 0.68, 0.75, 0.72, 0.85, 0.95, 1.05, 1.15, 1.10, 1.20, 1.40, 1.75, 0.00, 1.50,
                 2.30, 2.40, 2.40, 2.30, 2.10, 1.95, 1.85, 1.75, 1.70, 1.55, 1.45, 1.10, 0.80, 0.72, 0.70]
PT41_T10_F_MG = [0.00, 0.01, 0.01, 0.02, 0.02, 0.03, 0.03, 0.03, 0.04, 0.04, 0.05, 0.07, 0.11, 0.20, 0.30, 0.38, 0.42, 0.53, 0.56, 0.52, 0.58, 0.62, 0.75, 0.88, 0.82, 0.88, 1.02, 1.30, 0.50, 0.90,
                 1.20, 1.00, 0.90, 1.00, 0.95, 1.10, 1.05, 0.90, 0.85, 0.90, 0.95, 0.90, 0.85, 0.90, 0.75]
IT5_T00_F_CY = [0.00, 0.005, 0.01, 0.01, 0.01, 0.01, 0.015, 0.015, 0.015, 0.015, 0.02, 0.03, 0.04, 0.06, 0.09, 0.16, 0.20, 0.27, 0.29, 0.25, 0.26, 0.30, 0.38, 0.42, 0.38, 0.42, 0.46, 0.55, 0.15, 0.40,
                0.40, 0.35, 0.32, 0.30, 0.30, 0.32, 0.35, 0.35, 0.33, 0.32, 0.30, 0.28, 0.30, 0.30, 0.28]
IT5_T00_F_BL = [0.00, 0.005, 0.01, 0.01, 0.01, 0.015, 0.02, 0.02, 0.02, 0.02, 0.03, 0.04, 0.05, 0.08, 0.12, 0.20, 0.25, 0.33, 0.35, 0.30, 0.31, 0.36, 0.46, 0.52, 0.46, 0.52, 0.57, 0.70, 0.00, 0.50,
                0.45, 0.40, 0.25, 0.20, 0.22, 0.30, 0.35, 0.38, 0.42, 0.55, 0.75, 0.90, 1.15, 1.20, 0.85]
IT5_T00_F_MG = [0.00, 0.005, 0.01, 0.01, 0.01, 0.015, 0.02, 0.02, 0.02, 0.02, 0.03, 0.05, 0.07, 0.10, 0.16, 0.28, 0.35, 0.45, 0.52, 0.45, 0.48, 0.60, 0.75, 0.78, 0.72, 0.78, 1.05, 1.18, 0.40, 0.70,
                1.00, 1.08, 0.85, 0.60, 0.45, 0.40, 0.38, 0.40, 0.42, 0.45, 0.50, 0.55, 0.58, 0.60, 0.62]
PT41_T00_F_CY = [0.00, 0.005, 0.01, 0.01, 0.01, 0.015, 0.02, 0.02, 0.02, 0.02, 0.03, 0.04, 0.05, 0.07, 0.11, 0.19, 0.23, 0.31, 0.33, 0.28, 0.28, 0.33, 0.43, 0.48, 0.43, 0.48, 0.52, 0.62, 0.20, 0.45,
                 0.40, 0.35, 0.30, 0.30, 0.30, 0.32, 0.35, 0.38, 0.40, 0.48, 0.60, 0.75, 0.95, 1.20, 1.40]
PT41_T00_F_BL = [0.00, 0.005, 0.01, 0.01, 0.01, 0.015, 0.02, 0.02, 0.02, 0.02, 0.03, 0.04, 0.05, 0.07, 0.11, 0.18, 0.22, 0.30, 0.32, 0.27, 0.27, 0.32, 0.41, 0.46, 0.41, 0.46, 0.50, 0.62, 0.00, 0.40,
                 0.40, 0.35, 0.30, 0.28, 0.28, 0.30, 0.33, 0.35, 0.38, 0.40, 0.42, 0.40, 0.45, 0.55, 0.75]
PT41_T00_F_MG = [0.00, 0.005, 0.01, 0.01, 0.01, 0.015, 0.02, 0.02, 0.02, 0.02, 0.03, 0.045, 0.06, 0.09, 0.14, 0.24, 0.30, 0.40, 0.44, 0.38, 0.40, 0.48, 0.62, 0.70, 0.62, 0.70, 0.85, 1.08, 0.30, 0.70,
                 0.92, 0.95, 0.80, 0.55, 0.40, 0.35, 0.33, 0.35, 0.38, 0.42, 0.45, 0.50, 0.55, 0.65, 0.75]

# ------------------------------------------------------------------
# CPUE (aggregate)
# ------------------------------------------------------------------
CPUE_OBS = [5.6, 6.1, 7.5, 10.9, 8.5, 7.0, 5.8, 6.5, 7.5, 6.8, 7.3, 7.0, 7.9, 7.9, 7.8, 6.5, 5.8, 6.0, 6.5, 6.0, 5.0, 5.5,
            7.7, 5.0, 4.5, 5.5, 5.9, 4.6, 4.0, 4.3, 4.6, 3.8, 3.4, 3.3, 3.0, 3.1, 4.3, 3.2, 2.9, 2.6, 2.8, 2.0, 2.4]

IT5_T10_CPUE_MED = [2.2, 2.5, 2.6, 2.5, 2.4, 2.5, 2.4, 2.3, 2.3, 2.4, 2.5, 2.6, 2.9, 3.3, 3.5, 3.2]
IT5_T10_CPUE_OLO = [1.8, 1.4, 1.3, 1.2, 1.0, 1.0, 0.95, 0.9, 0.9, 0.9, 0.9, 0.95, 1.0, 1.05, 1.1, 1.1]
IT5_T10_CPUE_OHI = [2.6, 4.0, 4.6, 5.0, 5.2, 5.3, 5.5, 5.7, 6.0, 6.5, 6.5, 6.8, 7.0, 7.5, 7.5, 7.3]
IT5_T10_CPUE_ILO = [2.0, 1.9, 1.8, 1.7, 1.6, 1.6, 1.55, 1.5, 1.5, 1.5, 1.55, 1.6, 1.7, 1.8, 1.9, 2.0]
IT5_T10_CPUE_IHI = [2.4, 3.3, 3.6, 3.8, 3.8, 3.8, 3.8, 3.8, 3.9, 4.0, 4.2, 4.4, 4.7, 5.0, 5.3, 5.4]
IT5_T10_CPUE_CY = [3.2, 2.5, 2.0, 2.5, 3.5, 3.0, 4.0, 6.5, 8.5, 6.0, 9.5, 11.0, 6.0, 7.0, 6.0]
IT5_T10_CPUE_BL = [4.3, 2.8, 2.5, 4.8, 3.8, 2.6, 2.8, 2.5, 3.0, 2.4, 2.0, 3.4, 2.2, 1.8, 2.0]
IT5_T10_CPUE_MG = [3.0, 2.5, 2.0, 2.2, 2.0, 1.8, 1.7, 2.2, 2.0, 2.6, 3.0, 3.5, 4.5, 7.2, 5.0]
PT41_T10_CPUE_MED = [2.5, 2.6, 2.6, 2.6, 2.7, 2.6, 2.5, 2.5, 2.5, 2.4, 2.4, 2.3, 2.3, 2.5, 2.5, 2.4]
PT41_T10_CPUE_OLO = [2.0, 1.2, 1.0, 0.9, 0.8, 0.7, 0.7, 0.7, 0.65, 0.6, 0.6, 0.6, 0.6, 0.6, 0.6, 0.6]
PT41_T10_CPUE_OHI = [3.0, 4.5, 5.0, 5.5, 6.0, 6.0, 5.8, 6.5, 6.5, 6.5, 6.3, 6.0, 6.0, 6.0, 5.8, 5.8]
PT41_T10_CPUE_ILO = [2.2, 1.8, 1.7, 1.6, 1.5, 1.5, 1.45, 1.4, 1.4, 1.4, 1.4, 1.4, 1.4, 1.4, 1.4, 1.4]
PT41_T10_CPUE_IHI = [2.8, 3.4, 3.5, 3.6, 3.6, 3.6, 3.6, 3.6, 3.6, 3.6, 3.6, 3.6, 3.8, 4.0, 4.2, 4.4]
PT41_T10_CPUE_CY = [2.5, 2.0, 1.8, 1.5, 1.2, 1.0, 1.0, 1.1, 1.5, 2.0, 3.0, 5.0, 8.3, 6.5, 5.2]
PT41_T10_CPUE_BL = [1.6, 1.2, 1.0, 0.8, 0.7, 0.6, 0.5, 0.5, 0.6, 0.8, 1.0, 0.9, 1.0, 1.2, 1.5]
PT41_T10_CPUE_MG = [2.8, 2.5, 2.2, 2.5, 2.0, 1.8, 2.6, 2.5, 1.8, 1.5, 1.4, 1.2, 1.3, 1.2, 1.4]
IT5_T00_CPUE_MED = [2.3, 2.8, 3.2, 3.6, 4.2, 4.5, 4.6, 4.6, 4.5, 4.4, 4.2, 4.0, 3.8, 3.6, 3.5, 3.4]
IT5_T00_CPUE_OLO = [1.8, 1.2, 1.4, 1.6, 1.8, 2.0, 2.2, 2.2, 2.2, 2.2, 2.1, 2.0, 2.0, 1.9, 1.9, 1.8]
IT5_T00_CPUE_OHI = [2.8, 3.5, 4.5, 5.5, 6.5, 7.5, 8.2, 8.0, 7.5, 7.0, 6.8, 6.5, 6.3, 6.0, 5.8, 5.5]
IT5_T00_CPUE_ILO = [2.0, 2.0, 2.3, 2.6, 3.0, 3.3, 3.5, 3.5, 3.5, 3.4, 3.3, 3.2, 3.0, 2.8, 2.7, 2.6]
IT5_T00_CPUE_IHI = [2.6, 3.2, 3.8, 4.5, 5.3, 5.8, 6.0, 6.0, 5.8, 5.6, 5.4, 5.2, 5.0, 4.7, 4.5, 4.4]
IT5_T00_CPUE_CY = [2.5, 3.5, 2.5, 4.0, 7.5, 4.5, 2.5, 1.2, 3.5, 5.0, 4.0, 4.5, 3.5, 2.8, 2.4]
IT5_T00_CPUE_BL = [1.5, 3.0, 4.5, 3.5, 6.0, 7.5, 5.5, 4.5, 6.0, 10.0, 5.5, 4.5, 3.8, 3.0, 2.5]
IT5_T00_CPUE_MG = [1.8, 1.6, 2.5, 3.0, 5.0, 6.2, 4.5, 5.5, 4.8, 5.2, 4.0, 6.0, 5.0, 3.8, 4.2]
PT41_T00_CPUE_MED = [2.2, 2.8, 3.2, 3.6, 4.0, 4.4, 4.6, 4.6, 4.5, 4.3, 4.2, 4.0, 3.8, 3.5, 3.2, 3.0]
PT41_T00_CPUE_OLO = [1.8, 1.2, 1.4, 1.6, 1.8, 2.0, 2.1, 2.1, 2.1, 2.0, 2.0, 1.9, 1.8, 1.7, 1.6, 1.5]
PT41_T00_CPUE_OHI = [2.8, 3.6, 4.5, 5.5, 6.5, 7.5, 8.0, 8.0, 7.5, 7.0, 6.8, 6.5, 6.2, 6.0, 5.8, 5.5]
PT41_T00_CPUE_ILO = [2.0, 2.0, 2.3, 2.6, 2.9, 3.2, 3.4, 3.4, 3.4, 3.3, 3.2, 3.1, 2.9, 2.7, 2.5, 2.3]
PT41_T00_CPUE_IHI = [2.6, 3.2, 3.8, 4.5, 5.2, 5.7, 6.0, 6.0, 5.8, 5.6, 5.4, 5.2, 5.0, 4.7, 4.4, 4.2]
PT41_T00_CPUE_CY = [3.0, 4.5, 3.0, 6.0, 9.0, 5.5, 5.0, 4.0, 4.5, 4.0, 3.8, 3.0, 2.5, 2.0, 2.0]
PT41_T00_CPUE_BL = [3.0, 3.5, 5.5, 4.0, 4.5, 3.2, 2.8, 5.0, 5.5, 4.5, 4.0, 4.5, 4.0, 3.5, 2.8]
PT41_T00_CPUE_MG = [1.5, 1.3, 2.0, 2.5, 3.5, 3.0, 4.5, 9.2, 5.0, 4.0, 4.5, 3.8, 4.0, 4.2, 5.1]

# ------------------------------------------------------------------
# Catch (1000 t)
# ------------------------------------------------------------------
CATCH_OBS = [5, 5, 15, 30, 50, 65, 60, 45, 35, 45,
             50, 45, 40, 50, 55, 50, 45, 60, 90, 60,
             50, 45, 45, 55, 50, 55, 70, 85, 60, 50,
             55, 60, 70, 100, 130, 140, 160, 180, 210, 250,
             290, 330, 360, 410, 350, 360, 370, 340, 380, 360,
             330, 350, 420, 480, 530, 510, 420, 340, 270, 300,
             340, 380, 410, 410, 410, 405, 400]

IT5_T10_CATCH_MED = [405, 380, 360, 340, 320, 300, 290, 280, 270, 255, 245, 240, 235, 240, 245, 250]
IT5_T10_CATCH_OLO = [400, 350, 310, 270, 230, 200, 185, 175, 165, 155, 145, 140, 135, 130, 130, 130]
IT5_T10_CATCH_OHI = [410, 420, 430, 450, 470, 480, 480, 470, 460, 455, 450, 450, 440, 440, 440, 440]
IT5_T10_CATCH_ILO = [402, 370, 340, 310, 285, 260, 245, 230, 220, 210, 200, 195, 190, 185, 185, 185]
IT5_T10_CATCH_IHI = [408, 400, 395, 390, 385, 375, 365, 355, 345, 340, 330, 325, 320, 320, 320, 320]
IT5_T10_CATCH_CY = [380, 345, 330, 340, 380, 360, 330, 380, 450, 470, 520, 560, 580, 600, 600]
IT5_T10_CATCH_BL = [400, 380, 400, 420, 440, 470, 500, 520, 480, 400, 350, 300, 280, 270, 320]
IT5_T10_CATCH_MG = [360, 340, 320, 300, 260, 220, 180, 185, 200, 210, 205, 200, 200, 180, 175]
PT41_T10_CATCH_MED = [405, 390, 360, 320, 300, 300, 300, 295, 295, 290, 285, 280, 270, 265, 265, 265]
PT41_T10_CATCH_OLO = [400, 340, 280, 220, 180, 160, 150, 140, 140, 135, 135, 130, 130, 130, 130, 130]
PT41_T10_CATCH_OHI = [410, 420, 450, 480, 520, 540, 530, 520, 510, 500, 500, 490, 480, 480, 470, 460]
PT41_T10_CATCH_ILO = [402, 370, 320, 270, 240, 220, 210, 200, 195, 195, 190, 190, 185, 180, 180, 180]
PT41_T10_CATCH_IHI = [408, 400, 390, 380, 380, 380, 375, 370, 365, 360, 360, 355, 350, 350, 350, 350]
PT41_T10_CATCH_CY = [400, 350, 290, 240, 210, 195, 180, 175, 175, 170, 165, 160, 150, 140, 135]
PT41_T10_CATCH_BL = [390, 320, 220, 150, 110, 90, 80, 75, 75, 75, 80, 90, 100, 110, 105]
PT41_T10_CATCH_MG = [400, 370, 320, 290, 270, 250, 235, 255, 230, 200, 180, 200, 170, 190, 240]
IT5_T00_CATCH_MED = [405, 380, 370, 390, 420, 440, 460, 480, 500, 520, 540, 550, 570, 580, 575, 570]
IT5_T00_CATCH_OLO = [400, 350, 330, 320, 320, 330, 340, 350, 360, 370, 380, 390, 400, 410, 420, 420]
IT5_T00_CATCH_OHI = [410, 420, 440, 480, 520, 560, 600, 640, 680, 720, 760, 800, 830, 860, 890, 900]
IT5_T00_CATCH_ILO = [402, 370, 350, 350, 370, 390, 410, 420, 440, 450, 470, 480, 490, 500, 510, 510]
IT5_T00_CATCH_IHI = [408, 400, 400, 420, 460, 490, 520, 550, 580, 610, 640, 670, 700, 730, 760, 780]
IT5_T00_CATCH_CY = [400, 360, 340, 340, 350, 370, 380, 390, 400, 410, 420, 430, 440, 430, 430]
IT5_T00_CATCH_BL = [400, 370, 340, 330, 350, 380, 410, 440, 470, 500, 540, 580, 640, 600, 560]
IT5_T00_CATCH_MG = [380, 340, 300, 270, 240, 220, 225, 240, 260, 280, 300, 330, 350, 360, 345]
PT41_T00_CATCH_MED = [405, 380, 350, 320, 330, 370, 400, 430, 460, 490, 520, 550, 570, 580, 600, 600]
PT41_T00_CATCH_OLO = [400, 340, 310, 290, 280, 290, 300, 320, 340, 360, 380, 400, 410, 420, 430, 430]
PT41_T00_CATCH_OHI = [410, 420, 420, 430, 470, 510, 560, 610, 660, 720, 780, 840, 880, 920, 980, 1030]
PT41_T00_CATCH_ILO = [402, 370, 340, 310, 300, 310, 330, 350, 380, 400, 420, 440, 460, 480, 500, 500]
PT41_T00_CATCH_IHI = [408, 400, 380, 370, 390, 430, 470, 510, 550, 590, 630, 680, 720, 750, 780, 800]
PT41_T00_CATCH_CY = [390, 360, 350, 380, 420, 470, 520, 560, 610, 650, 700, 740, 780, 780, 730]
PT41_T00_CATCH_BL = [390, 350, 340, 380, 430, 480, 500, 540, 580, 620, 660, 700, 720, 740, 720]
PT41_T00_CATCH_MG = [370, 330, 280, 230, 210, 210, 240, 250, 270, 290, 310, 330, 360, 420, 430]

# ------------------------------------------------------------------
# Recruitment (millions)
# ------------------------------------------------------------------
T10_REC_FLAT_MED = [75, 75, 70, 70]
T10_REC_FLAT_BAND = [30, 140, 45, 120]     # outer lo, outer hi, inner lo, inner hi
T10_REC_MED = [40, 90, 70, 75, 65, 80, 60, 70, 55, 75, 60, 65, 70, 75, 55, 65, 60, 70, 55, 65, 60, 70, 55, 60, 55,
               65, 50, 75, 60, 80, 55, 50, 35, 22, 40, 55, 60, 50, 60, 55, 65, 50, 60, 55, 50]
T10_REC_OHI = [60, 230, 140, 180, 120, 200, 110, 160, 110, 190, 100, 140, 120, 300, 110, 170, 110, 150, 100, 140, 90, 130, 90, 140, 85,
               120, 80, 280, 100, 140, 85, 100, 60, 40, 80, 110, 140, 80, 110, 90, 120, 80, 110, 90, 100]
T10_REC_IHI = [50, 140, 100, 120, 90, 120, 80, 100, 80, 110, 80, 95, 90, 120, 80, 95, 80, 95, 75, 90, 75, 90, 70, 85, 70,
               85, 65, 110, 75, 100, 70, 70, 45, 30, 55, 75, 85, 65, 80, 70, 85, 65, 80, 70, 70]
T00_REC_FLAT_MED = [150, 150, 145, 145]
T00_REC_FLAT_BAND = [45, 625, 80, 290]
T00_REC_MED = [100, 200, 150, 170, 130, 180, 120, 150, 110, 160, 120, 140, 150, 160, 110, 130, 110, 130, 100, 120, 100, 120, 90, 110, 90,
               110, 80, 130, 90, 120, 80, 80, 50, 35, 70, 90, 110, 80, 100, 90, 110, 80, 100, 90, 100]
T00_REC_OHI = [300, 1580, 600, 900, 500, 1100, 450, 800, 500, 1000, 450, 700, 1820, 600, 700, 450, 650, 400, 600, 350, 500, 350, 450, 300, 500,
               300, 450, 800, 350, 500, 300, 350, 200, 120, 280, 350, 450, 280, 400, 350, 450, 300, 450, 350, 400]
T00_REC_IHI = [200, 450, 300, 380, 250, 400, 230, 320, 220, 350, 220, 300, 350, 300, 230, 280, 220, 260, 200, 240, 180, 230, 170, 220, 160,
               210, 150, 280, 160, 220, 140, 150, 100, 70, 130, 160, 200, 140, 180, 160, 200, 150, 190, 160, 180]

IT5_T10_REC_MED = [48, 52, 50, 55, 50, 53, 48, 55, 50, 52, 54, 50, 55, 52, 50, 54, 52, 55, 50, 53, 55, 52, 56, 54, 55, 52, 57, 55, 58, 56]
IT5_T10_REC_OHI = [120, 250, 130, 200, 120, 180, 130, 230, 120, 200, 140, 260, 130, 210, 150, 250, 140, 240, 130, 220, 150, 260, 140, 220, 150, 240, 140, 200, 180, 150]
IT5_T10_REC_IHI = [80, 95, 85, 100, 85, 95, 80, 100, 85, 95, 90, 100, 85, 95, 90, 100, 85, 100, 90, 95, 90, 100, 88, 95, 90, 100, 90, 95, 100, 95]
IT5_T10_REC_OLO = [20, 25, 22, 25, 20, 22, 20, 22, 18, 20, 15, 10, 18, 20, 18, 15, 15, 15, 14, 14, 14, 14, 14, 14, 14, 14]
IT5_T10_REC_ILO = [30, 40, 35, 40, 35, 35, 32, 35, 30, 32, 28, 15, 30, 32, 30, 28, 28, 28, 28, 28, 28, 28, 28, 28, 28, 28]
PT41_T10_REC_MED = [55, 52, 56, 50, 54, 52, 55, 50, 53, 51, 54, 50, 52, 55, 50, 53, 51, 52, 50, 54, 50, 52, 49, 51, 48, 50, 49, 48, 50, 47]
PT41_T10_REC_OHI = [100, 140, 110, 150, 120, 160, 130, 180, 120, 170, 130, 190, 140, 180, 130, 200, 150, 180, 140, 210, 150, 190, 140, 200, 150, 230, 140, 190, 170, 150]
PT41_T10_REC_IHI = [85, 90, 85, 95, 85, 95, 88, 95, 85, 92, 88, 95, 85, 95, 88, 95, 85, 92, 88, 95, 85, 92, 85, 90, 85, 92, 85, 90, 88, 85]
PT41_T10_REC_OLO = [20, 25, 22, 25, 20, 22, 20, 22, 18, 20, 15, 10, 18, 20, 18, 12, 10, 10, 10, 10, 10, 10, 10, 10, 10, 10]
PT41_T10_REC_ILO = [30, 40, 35, 40, 35, 35, 32, 35, 30, 32, 28, 15, 30, 32, 30, 25, 22, 22, 22, 22, 22, 22, 22, 22, 22, 22]
IT5_T00_REC_MED = [110, 130, 100, 140, 110, 120, 100, 135, 105, 125, 110, 130, 100, 120, 110, 135, 105, 125, 100, 120, 110, 130, 105, 120, 100, 125, 110, 120, 115, 110]
IT5_T00_REC_OHI = [500, 800, 550, 900, 600, 700, 550, 800, 600, 900, 550, 750, 650, 900, 600, 850, 550, 800, 600, 900, 550, 1000, 600, 850, 600, 1000, 550, 900, 700, 600]
IT5_T00_REC_IHI = [250, 300, 240, 320, 260, 280, 240, 300, 260, 300, 250, 290, 260, 300, 250, 300, 240, 290, 250, 300, 240, 310, 250, 290, 250, 300, 240, 290, 270, 250]
IT5_T00_REC_OLO = [60, 70, 60, 55, 60, 55, 50, 50, 45, 45, 40, 25, 40, 45, 45, 40, 40, 40, 40, 40, 40, 40, 40, 40, 40, 40]
IT5_T00_REC_ILO = [90, 110, 100, 95, 95, 90, 85, 85, 80, 80, 70, 45, 70, 80, 80, 70, 70, 70, 70, 70, 70, 70, 70, 70, 70, 70]
PT41_T00_REC_MED = [120, 110, 130, 100, 125, 110, 135, 105, 120, 100, 130, 110, 125, 105, 120, 100, 130, 110, 125, 100, 120, 110, 130, 105, 120, 110, 125, 115, 130, 120]
PT41_T00_REC_OHI = [450, 600, 500, 550, 450, 650, 500, 550, 480, 600, 520, 580, 460, 560, 500, 620, 480, 600, 500, 560, 480, 600, 520, 650, 500, 580, 480, 560, 600, 500]
PT41_T00_REC_IHI = [240, 280, 230, 260, 240, 290, 240, 270, 230, 280, 240, 270, 230, 260, 240, 290, 240, 270, 240, 260, 230, 280, 240, 300, 240, 270, 230, 260, 280, 240]
PT41_T00_REC_OLO = [60, 70, 60, 55, 60, 55, 50, 50, 45, 45, 40, 25, 40, 45, 45, 45, 45, 45, 45, 45, 45, 45, 45, 45, 45, 45]
PT41_T00_REC_ILO = [90, 110, 100, 95, 95, 90, 85, 85, 80, 80, 70, 45, 70, 80, 80, 75, 75, 75, 75, 75, 75, 75, 75, 75, 75, 75]

IT5_T10_REC_FLAT = [150, 130, 70]          # cyan, blue, magenta before 1972
IT5_T10_REC_CY = [80, 330, 120, 250, 140, 300, 110, 200, 150, 270, 100, 180, 380, 120, 160, 110, 150, 90, 200, 100,
                  120, 80, 140, 90, 110, 80, 100, 250, 120, 200, 90, 110, 70, 40, 80, 110, 150, 90, 130, 100,
                  120, 90, 140, 110, 130, 250, 90, 300, 130, 180, 100, 200, 120, 270, 90, 180, 130, 250, 100, 390,
                  150, 390, 120, 200, 110, 220, 100, 300, 120, 200, 130, 320, 100, 230, 90]
IT5_T10_REC_BL = [60, 200, 90, 150, 80, 170, 100, 130, 80, 120, 90, 110, 100, 80, 120, 70, 90, 70, 100, 60,
                  80, 60, 70, 60, 80, 50, 90, 60, 80, 240, 60, 70, 40, 25, 50, 60, 80, 60, 70, 50,
                  60, 50, 60, 70, 200, 80, 60, 210, 70, 120, 60, 330, 90, 80, 60, 100, 70, 150, 60, 80,
                  300, 90, 60, 110, 70, 90, 300, 80, 60, 100, 70, 110, 60, 80, 70]
IT5_T10_REC_MG = [40, 100, 60, 90, 50, 80, 55, 70, 45, 75, 50, 65, 55, 70, 45, 60, 50, 65, 40, 55,
                  45, 60, 40, 50, 45, 55, 40, 60, 50, 70, 45, 40, 30, 20, 35, 45, 55, 40, 50, 45,
                  55, 40, 50, 45, 40, 50, 35, 60, 40, 55, 30, 45, 35, 20, 40, 55, 30, 45, 25, 50,
                  35, 60, 40, 30, 55, 40, 60, 35, 45, 30, 80, 50, 120, 190, 60]
PT41_T10_REC_FLAT = [118, 45, 35]
PT41_T10_REC_CY = [120, 230, 150, 200, 120, 250, 110, 180, 130, 220, 100, 150, 120, 305, 110, 200, 130, 160, 100, 150,
                   90, 120, 100, 150, 90, 130, 80, 280, 100, 150, 90, 120, 60, 40, 80, 110, 150, 70, 100, 90,
                   130, 80, 110, 80, 100, 70, 80, 60, 70, 60, 80, 60, 90, 100, 120, 90, 150, 110, 130, 100,
                   180, 120, 160, 110, 140, 120, 230, 130, 170, 120, 160, 130, 220, 120, 140]
PT41_T10_REC_BL = [45, 90, 55, 70, 45, 80, 50, 65, 45, 70, 50, 60, 45, 75, 50, 60, 45, 55, 40, 50,
                   40, 55, 40, 50, 35, 45, 35, 60, 40, 50, 35, 40, 25, 15, 30, 40, 45, 35, 40, 35,
                   40, 30, 35, 30, 30, 25, 20, 30, 15, 25, 10, 20, 12, 18, 10, 15, 12, 20, 10, 15,
                   12, 18, 10, 20, 12, 15, 10, 25, 12, 20, 15, 25, 15, 30, 20]
PT41_T10_REC_MG = [25, 60, 35, 50, 30, 55, 35, 45, 30, 50, 35, 45, 30, 55, 35, 45, 30, 40, 30, 40,
                   30, 45, 30, 40, 30, 40, 25, 45, 30, 40, 30, 35, 20, 12, 25, 35, 40, 30, 35, 30,
                   40, 30, 35, 30, 25, 40, 30, 45, 25, 35, 20, 30, 25, 40, 20, 30, 25, 35, 20, 30,
                   25, 35, 20, 30, 25, 35, 20, 30, 25, 35, 20, 30, 25, 35, 20]
IT5_T00_REC_FLAT = [633, 265, 60]
IT5_T00_REC_CY = [600, 1600, 700, 1200, 600, 1000, 500, 900, 600, 1100, 550, 800, 1820, 600, 900, 500, 800, 450, 700, 400,
                  600, 350, 550, 400, 650, 350, 500, 900, 400, 600, 350, 400, 200, 150, 300, 400, 550, 300, 500, 400,
                  600, 450, 700, 400, 600, 900, 500, 1100, 600, 800, 450, 700, 550, 900, 500, 1000, 600, 800, 550, 1050,
                  500, 800, 600, 1000, 500, 700, 1250, 600, 900, 500, 1150, 550, 800, 1050, 600]
IT5_T00_REC_BL = [200, 450, 250, 350, 200, 300, 180, 280, 200, 300, 170, 250, 600, 200, 260, 160, 230, 150, 200, 130,
                  180, 120, 160, 110, 170, 100, 150, 200, 120, 160, 100, 110, 70, 50, 90, 110, 150, 100, 130, 110,
                  150, 120, 160, 130, 150, 200, 130, 250, 150, 220, 140, 300, 160, 250, 150, 230, 170, 280, 150, 250,
                  160, 300, 170, 250, 150, 220, 180, 260, 150, 230, 170, 280, 160, 240, 180]
IT5_T00_REC_MG = [40, 80, 55, 70, 45, 75, 50, 65, 45, 70, 50, 60, 55, 70, 45, 60, 50, 65, 40, 55,
                  45, 60, 40, 50, 45, 55, 40, 60, 45, 55, 40, 45, 30, 20, 35, 40, 50, 40, 45, 40,
                  50, 40, 45, 40, 45, 50, 40, 55, 40, 50, 35, 50, 40, 45, 35, 50, 40, 55, 35, 50,
                  40, 55, 40, 50, 35, 50, 45, 55, 40, 50, 40, 55, 45, 60, 45]
PT41_T00_REC_FLAT = [100, 170, 50]
PT41_T00_REC_CY = [150, 300, 180, 250, 150, 220, 140, 200, 150, 230, 130, 180, 250, 150, 200, 130, 170, 120, 150, 110,
                   130, 100, 120, 90, 140, 90, 110, 180, 100, 130, 90, 100, 60, 40, 80, 100, 120, 90, 110, 100,
                   130, 100, 140, 100, 120, 150, 100, 180, 110, 150, 100, 170, 110, 160, 100, 150, 120, 170, 100, 160,
                   110, 180, 120, 150, 100, 140, 130, 170, 110, 150, 120, 170, 110, 160, 130]
PT41_T00_REC_BL = [220, 440, 250, 400, 200, 350, 230, 300, 200, 380, 180, 300, 430, 200, 300, 180, 280, 170, 250, 160,
                   200, 150, 180, 130, 220, 130, 180, 280, 150, 200, 120, 140, 80, 60, 100, 130, 160, 110, 140, 120,
                   160, 120, 150, 130, 200, 150, 300, 180, 450, 200, 160, 280, 170, 520, 180, 250, 160, 300, 170, 400,
                   180, 250, 160, 470, 180, 300, 170, 250, 650, 200, 180, 300, 170, 250, 220]
PT41_T00_REC_MG = [45, 70, 50, 60, 45, 65, 45, 55, 40, 60, 45, 55, 50, 60, 45, 55, 45, 55, 40, 50,
                   40, 55, 40, 50, 40, 50, 35, 55, 40, 50, 35, 40, 25, 20, 30, 40, 45, 35, 40, 35,
                   45, 35, 40, 40, 40, 45, 35, 50, 40, 45, 35, 45, 40, 50, 35, 45, 40, 50, 35, 45,
                   40, 50, 35, 45, 40, 50, 35, 45, 40, 50, 35, 45, 40, 50, 40]

# ------------------------------------------------------------------
# layout / style
# ------------------------------------------------------------------
W, H = 1147, 1214
ROW_TOP = [32, 212, 392.5]
PANEL_H = 104.5
VLINES = [2015, 2019]
PANEL_BG = "#EBEBEB"
OUTER_C, OUTER_A = "#7F7F7F", 0.30
INNER_C, INNER_A = "#404040", 0.47
CYAN, BLUE, MAGENTA = "#00FFFF", "#0000FF", "#FF00FF"
TICK_C = "#4D4D4D"

fig = plt.figure(figsize=(W / 100, H / 100), dpi=100, facecolor="white")

QUADS = [
    dict(mp="IT5", om="t10", ox=0, oy=0, mid=270, edge=534, right=[262.5, 532],
         lefts=[52.7, 326, 43, 322, 42.5, 326],
         ymax=[1.14, 371, 3.99, 1.80, 10.96, 531]),
    dict(mp="PT41", om="t10", ox=603.5, oy=0, mid=870, edge=W, right=[263.5, 537.5],
         lefts=[52.3, 327.5, 42.7, 322.7, 41.7, 327.5],
         ymax=[1.14, 368, 3.99, 1.91, 11.05, 547]),
    dict(mp="IT5", om="t00", ox=0, oy=681, mid=268, edge=534, right=[262.5, 532],
         lefts=[53.5, 336, 43.5, 323.5, 42.8, 326],
         ymax=[1.39, 1829, 4.0, 1.73, 11.0, 918]),
    dict(mp="PT41", om="t00", ox=599, oy=679, mid=870, edge=W, right=[263, 541.5],
         lefts=[52, 335, 42, 323, 42, 335],
         ymax=[1.40, 1839, 4.0, 2.2, 11.05, 1023]),
]


def g(name):
    return globals()[name]


def make_ax(q, idx):
    row, col = idx // 2, idx % 2
    left = q["ox"] + q["lefts"][idx]
    right = q["ox"] + q["right"][col]
    top = q["oy"] + ROW_TOP[row]
    return fig.add_axes([left / W, 1 - (top + PANEL_H) / H, (right - left) / W, PANEL_H / H])


def style(ax, ymax, yticks, ylabels, rec=False):
    ax.set_facecolor(PANEL_BG)
    ax.set_ylim(-0.05 * ymax, 1.05 * ymax)
    if rec:
        ax.set_xlim(1944.5, 2051.5)
        ax.set_xticks([1950, 1975, 2000, 2025, 2050])
    else:
        ax.set_xlim(1945, 2051)
        ax.set_xticks([1950, 1975, 2000, 2025])
    ax.set_xticks([1962.5, 1987.5, 2012.5, 2037.5], minor=True)
    ax.set_xticklabels([str(int(t)) for t in ax.get_xticks()])
    ax.set_yticks(yticks)
    ax.set_yticklabels(ylabels)
    step = yticks[1] - yticks[0]
    ax.set_yticks([t + step / 2 for t in yticks if t + step / 2 < 1.05 * ymax], minor=True)
    ax.grid(which="major", color="white", lw=0.85)
    ax.grid(which="minor", color="white", lw=0.45)
    ax.set_axisbelow(True)
    for s in ax.spines.values():
        s.set_visible(False)
    ax.tick_params(which="major", length=2.6, width=0.7, color="#333333",
                   labelsize=9.5, labelcolor=TICK_C)
    ax.tick_params(axis="x", which="major", pad=3.2)
    ax.tick_params(axis="y", which="major", pad=2.2)
    ax.tick_params(which="minor", length=0)


def bands(ax, x, olo, ohi, ilo, ihi):
    ax.fill_between(x, olo, ohi, color=OUTER_C, alpha=OUTER_A, lw=0, zorder=2)
    ax.fill_between(x, ilo, ihi, color=INNER_C, alpha=INNER_A, lw=0, zorder=3)


def worms(ax, x, cy, bl, mg, lw=0.75):
    ax.plot(x, bl, color=BLUE, alpha=0.5, lw=lw, zorder=4)
    ax.plot(x, cy, color=CYAN, alpha=0.5, lw=lw, zorder=4)
    ax.plot(x, mg, color=MAGENTA, alpha=0.5, lw=lw, zorder=4)


def refs(ax, lines=()):
    ax.axhline(0, color="black", lw=0.9, zorder=6)
    for y, c in lines:
        ax.axhline(y, color=c, lw=0.9, zorder=6)
    for xv in VLINES:
        ax.axvline(xv, color="black", lw=0.8, zorder=6)


def text_clip(t, x0, x1):
    t.set_clip_box(Bbox.from_extents(x0, 0, x1, H))
    t.set_clip_on(True)


def labels(q, idx, title, ylab, xlab=False):
    row, col = idx // 2, idx % 2
    left = q["ox"] + q["lefts"][idx]
    top = q["oy"] + ROW_TOP[row]
    t = fig.text(left / W, 1 - (top - 16) / H, title, ha="left", va="center",
                 fontsize=10, color="black")
    x0 = 0 if col == 0 else q["mid"]
    x1 = q["mid"] if col == 0 else q["edge"]
    text_clip(t, x0, x1)
    xl = q["ox"] + (16 if col == 0 else 286)
    fig.text(xl / W, 1 - (top + PANEL_H / 2) / H, ylab, rotation=90,
             ha="center", va="center", fontsize=10, color="black")
    if xlab:
        xc = q["ox"] + (q["lefts"][idx] + q["right"][col]) / 2
        fig.text(xc / W, 1 - (q["oy"] + 528) / H, "Year", ha="center", va="center",
                 fontsize=10, color="black")


def std_panel(ax, pre, om, var):
    x = YH + YP
    h = lambda s: g(f"{om}_{var}_{s}")
    p = lambda s: g(f"{pre}_{var}_{s}")
    bands(ax, x, h("OLO") + p("OLO"), h("OHI") + p("OHI"),
          h("ILO") + p("ILO"), h("IHI") + p("IHI"))
    worms(ax, x, p("CY"), p("BL"), p("MG"))
    ax.plot(x, h("MED") + p("MED"), color="black", lw=0.7, zorder=5)


def obs_panel(ax, pre, var, years, obs):
    p = lambda s: g(f"{pre}_{var}_{s}")
    bands(ax, YP16, p("OLO"), p("OHI"), p("ILO"), p("IHI"))
    xw = years + YP
    worms(ax, xw, obs + p("CY"), obs + p("BL"), obs + p("MG"))
    ax.plot(YP16, p("MED"), color="black", lw=0.7, zorder=5)


def rec_panel(ax, pre, om):
    p = lambda s: g(f"{pre}_REC_{s}")
    h = lambda s: g(f"{om}_REC_{s}")
    fol, foh, fil, fih = h("FLAT_BAND")
    for hi_h, hi_p, lo, flo, fhi, c, a, z in (
            (h("OHI"), p("OHI"), p("OLO"), fol, foh, OUTER_C, OUTER_A, 2),
            (h("IHI"), p("IHI"), p("ILO"), fil, fih, INNER_C, INNER_A, 3)):
        xs = [1950, 1972] + YR + YR3[::-1] + [1972, 1950]
        ys = [fhi, fhi] + hi_h + hi_p + lo[::-1] + [flo, flo]
        ax.fill(xs, ys, color=c, alpha=a, lw=0, zorder=z)
    fc, fb, fm = p("FLAT")
    xw = [1950, 1972] + YR
    worms(ax, xw, [fc, fc] + p("CY"), [fb, fb] + p("BL"), [fm, fm] + p("MG"), lw=0.8)
    ax.plot(REC_FLAT_X + YR, h("FLAT_MED") + h("MED") + p("MED"),
            color="black", lw=0.7, zorder=5)


for q in QUADS:
    om = q["om"].upper()
    pre = f"{q['mp']}_{om}"
    head = f"MP {q['mp']}.tune.15: "
    tag = f"({q['om']})"
    ym = q["ymax"]

    # B/B0
    ax = make_ax(q, 0)
    std_panel(ax, pre, om, "BB0")
    refs(ax, [(0.2, "red")])
    if om == "T10":
        style(ax, ym[0], [0, 0.3, 0.6, 0.9], ["0.0", "0.3", "0.6", "0.9"])
    else:
        style(ax, ym[0], [0, 0.5, 1.0], ["0.0", "0.5", "1.0"])
    labels(q, 0, head + "B/B0" + tag, "B/B0")

    # Recruitment
    ax = make_ax(q, 1)
    rec_panel(ax, pre, om)
    refs(ax)
    if om == "T10":
        style(ax, ym[1], [0, 100, 200, 300], ["0", "100", "200", "300"], rec=True)
    else:
        style(ax, ym[1], [0, 500, 1000, 1500], ["0", "500", "1000", "1500"], rec=True)
    for tk in ax.xaxis.get_major_ticks():
        text_clip(tk.label1, 0, q["edge"])
    labels(q, 1, head + "Recruitment" + tag, "Millions")

    # SSB/SSBMSY
    ax = make_ax(q, 2)
    std_panel(ax, pre, om, "SSB")
    refs(ax, [(1.0, "#00FF00"), (0.4, "red")])
    style(ax, ym[2], [0, 1, 2, 3, 4], ["0", "1", "2", "3", "4"])
    labels(q, 2, head + "SSB/SSBMSY" + tag, "SSB/SSBMSY")

    # F/FMSY
    ax = make_ax(q, 3)
    std_panel(ax, pre, om, "F")
    refs(ax, [(1.0, "#00FF00"), (1.4, "red")])
    if ym[3] > 2.0:
        style(ax, ym[3], [0, 0.5, 1.0, 1.5, 2.0], ["0.0", "0.5", "1.0", "1.5", "2.0"])
    else:
        style(ax, ym[3], [0, 0.5, 1.0, 1.5], ["0.0", "0.5", "1.0", "1.5"])
    labels(q, 3, head + "F/FMSY" + tag, "F/FMSY")

    # CPUE
    ax = make_ax(q, 4)
    obs_panel(ax, pre, "CPUE", CPUE_YEARS, CPUE_OBS)
    refs(ax)
    style(ax, ym[4], [0, 3, 6, 9], ["0", "3", "6", "9"])
    labels(q, 4, head + "CPUE (aggregate)" + tag, "CPUE", xlab=True)

    # Catch
    ax = make_ax(q, 5)
    obs_panel(ax, pre, "CATCH", CATCH_YEARS, CATCH_OBS)
    refs(ax)
    if ym[5] > 1000:
        style(ax, ym[5], [0, 250, 500, 750, 1000], ["0", "250", "500", "750", "1000"])
    elif ym[5] > 800:
        style(ax, ym[5], [0, 250, 500, 750], ["0", "250", "500", "750"])
    else:
        style(ax, ym[5], [0, 200, 400], ["0", "200", "400"])
    labels(q, 5, head + "Catch" + tag, "1000 t", xlab=True)

fig.savefig("out.png", dpi=100, facecolor="white")
